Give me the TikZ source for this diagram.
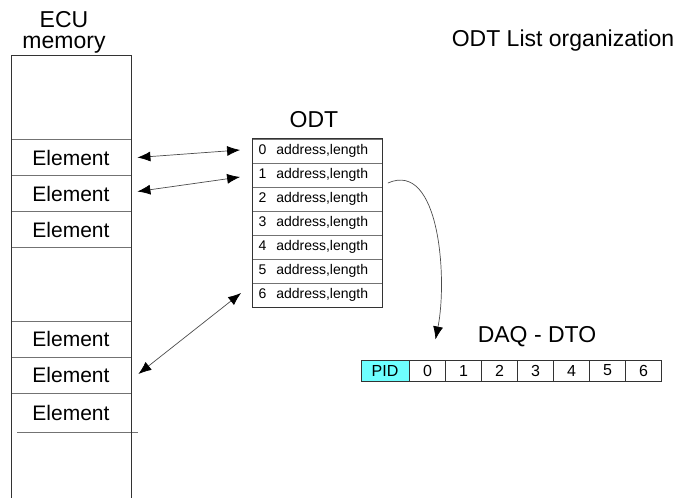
\documentclass[tikz,border=0pt]{standalone}
\usepackage{fontspec}
\setmainfont{Liberation Sans}
\usetikzlibrary{arrows.meta,positioning}

\definecolor{pidcyan}{RGB}{110,255,255}
\tikzset{memtip/.tip={Latex[length=13pt, width=10pt, color=black]}}

\begin{document}
\begin{tikzpicture}[x=1pt, y=-1pt,
    boxline/.style = {draw=black!80, line width=1pt},
    sepline/.style = {draw=black!55, line width=0.8pt},
    elem/.style = {sepline, minimum width=120pt, minimum height=36pt, inner sep=0pt, font=\fontsize{21}{21}\selectfont},
    odtrow/.style = {sepline, minimum height=24pt, text width=118pt, inner xsep=6pt, inner ysep=0pt, align=left, font=\fontsize{14}{14}\selectfont},
    daqcell/.style = {boxline, minimum width=36pt, minimum height=21pt, inner sep=0pt, font=\fontsize{16}{16}\selectfont},
    title/.style = {anchor=base, font=\fontsize{23}{23}\selectfont},
    link/.style = {draw=black!70, line width=0.7pt}]
  \useasboundingbox (0,0) rectangle (678,498);

  % Titles
  \node[title] (heading) at (563,46) {ODT List organization};
  \node[align=center, font=\fontsize{23}{21}\selectfont] (ecu) at (64,32) {ECU\\memory};
  \node[title] (odttitle) at (314,127) {ODT};
  \node[title] (daqtitle) at (537,342) {DAQ - DTO};

  % ECU memory column, open at the bottom
  \node[elem] (e1) at (71,157.5) {Element};
  \node[elem] (e2) at (71,193.5) {Element};
  \node[elem] (e3) at (71,229.5) {Element};
  \node[elem] (e4) at (71,339) {Element};
  \node[elem] (e5) at (71,375) {Element};
  \node[elem, draw=none] (e6) at (71,412.5) {Element};
  \draw[sepline] (17,432) -- (138,432);
  \draw[boxline] (11,498) -- (11,55) -- (131,55) -- (131,498);

  % ODT entries
  \foreach \i in {0,...,6}
    \node[odtrow] (o\i) at (317.5,151+24*\i) {\i\hspace{10pt}address,length};
  \draw[boxline] (o0.north west) rectangle (o6.south east);

  % DAQ - DTO packet
  \node[daqcell, fill=pidcyan, minimum width=48pt] (pid) at (385,370.5) {PID};
  \foreach \i in {0,...,6}
    \node[daqcell, anchor=west] (d\i) at (409+36*\i,370.5) {\i};

  % Add edges
  \draw[link, memtip-memtip] ([xshift=6pt]e1.east) -- ([xshift=-12pt,yshift=1pt]o0.west);
  \draw[link, memtip-memtip] ([xshift=6pt,yshift=2pt]e2.east) -- ([xshift=-12pt,yshift=-2pt]o1.west);
  \draw[link, memtip-memtip] ([xshift=7pt,yshift=1pt]e5.east) -- ([xshift=-11pt,yshift=2pt]o6.west);
  \draw[link, -memtip] ([xshift=5pt,yshift=-8pt]o1.east) .. controls +(52,-23) and +(12,-60) .. ([xshift=8pt,yshift=20pt]d0.north);
\end{tikzpicture}
\end{document}
